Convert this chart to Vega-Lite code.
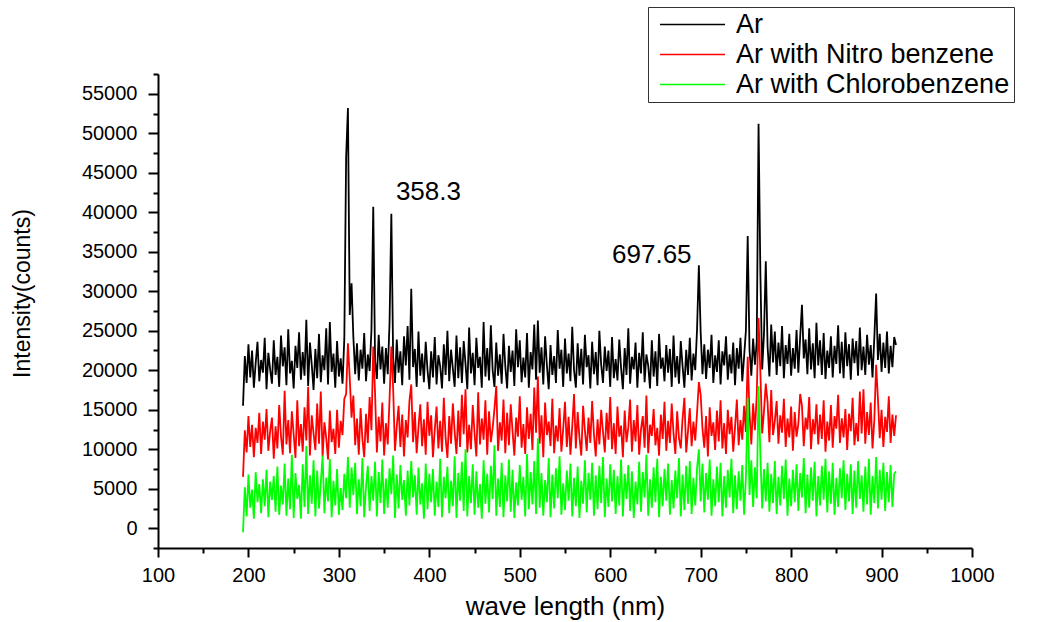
{
"$schema": "https://vega.github.io/schema/vega-lite/v6.json",
"width": 814,
"height": 474,
"autosize": {"type": "none"},
"padding": {"left": 158, "top": 74, "right": 75, "bottom": 74},
"background": "white",
"config": {
  "view": {"stroke": null},
  "font": "Liberation Sans",
  "axis": {"domainColor": "black", "domainWidth": 2, "tickColor": "black", "tickWidth": 2, "grid": false, "labelFont": "Liberation Sans", "labelFontSize": 20, "labelColor": "black", "titleFont": "Liberation Sans", "titleFontWeight": "normal", "titleColor": "black", "labelFlush": false, "labelOverlap": false}
},
"resolve": {"axis": {"x": "independent", "y": "independent"}},
"datasets": {
"spec": [
{"w":194,"a":15500,"n":6500,"c":-500},
{"w":196,"a":21800,"n":12400,"c":5200},
{"w":198,"a":18400,"n":9600,"c":1500},
{"w":200,"a":23300,"n":14200,"c":6800},
{"w":202,"a":19100,"n":10300,"c":2600},
{"w":204,"a":22500,"n":13100,"c":4900},
{"w":206,"a":17800,"n":9000,"c":1200},
{"w":208,"a":20900,"n":12700,"c":7100},
{"w":210,"a":23600,"n":10800,"c":3300},
{"w":212,"a":18600,"n":14600,"c":5600},
{"w":214,"a":21300,"n":9400,"c":1900},
{"w":216,"a":19700,"n":13500,"c":6200},
{"w":218,"a":24100,"n":11200,"c":2800},
{"w":220,"a":17600,"n":15100,"c":7400},
{"w":222,"a":22200,"n":9800,"c":1400},
{"w":224,"a":20100,"n":12300,"c":5900},
{"w":226,"a":18300,"n":14000,"c":3600},
{"w":228,"a":23800,"n":8800,"c":6600},
{"w":230,"a":19400,"n":12900,"c":2100},
{"w":232,"a":21700,"n":10100,"c":7800},
{"w":234,"a":17900,"n":15600,"c":1700},
{"w":236,"a":24400,"n":11600,"c":5400},
{"w":238,"a":20500,"n":9300,"c":3000},
{"w":240,"a":22900,"n":17400,"c":8200},
{"w":242,"a":18100,"n":10600,"c":1600},
{"w":244,"a":25200,"n":13700,"c":6300},
{"w":246,"a":19600,"n":9500,"c":2400},
{"w":248,"a":21200,"n":14800,"c":9300},
{"w":250,"a":17700,"n":11900,"c":1300},
{"w":252,"a":23100,"n":8900,"c":7000},
{"w":254,"a":20300,"n":16200,"c":3700},
{"w":256,"a":24800,"n":10400,"c":5500},
{"w":258,"a":18800,"n":13200,"c":1200},
{"w":260,"a":22300,"n":9700,"c":8100},
{"w":262,"a":19300,"n":15300,"c":2700},
{"w":264,"a":26400,"n":11100,"c":10400},
{"w":266,"a":18000,"n":17900,"c":1800},
{"w":268,"a":23500,"n":9200,"c":6700},
{"w":270,"a":20700,"n":14300,"c":3100},
{"w":272,"a":17500,"n":12000,"c":8600},
{"w":274,"a":22700,"n":9900,"c":1500},
{"w":276,"a":19000,"n":15800,"c":7300},
{"w":278,"a":24600,"n":10700,"c":2500},
{"w":280,"a":18500,"n":17300,"c":5800},
{"w":282,"a":21900,"n":9100,"c":9200},
{"w":284,"a":20000,"n":13400,"c":1900},
{"w":286,"a":25300,"n":11400,"c":6400},
{"w":288,"a":18200,"n":8700,"c":3400},
{"w":290,"a":26100,"n":14900,"c":8800},
{"w":292,"a":19800,"n":10900,"c":1400},
{"w":294,"a":22100,"n":12600,"c":6000},
{"w":296,"a":17800,"n":9400,"c":2900},
{"w":298,"a":23700,"n":15000,"c":7500},
{"w":300,"a":19200,"n":10200,"c":1700},
{"w":302,"a":21500,"n":13600,"c":5100},
{"w":304,"a":18300,"n":11800,"c":2300},
{"w":306,"a":24000,"n":16400,"c":6900},
{"w":308,"a":47000,"n":17000,"c":3800},
{"w":310,"a":53200,"n":23400,"c":9000},
{"w":312,"a":27000,"n":19000,"c":2600},
{"w":314,"a":31000,"n":14000,"c":7700},
{"w":316,"a":24200,"n":16800,"c":4200},
{"w":318,"a":19500,"n":10500,"c":8300},
{"w":320,"a":23400,"n":13900,"c":1800},
{"w":322,"a":18700,"n":9300,"c":6200},
{"w":324,"a":22600,"n":15200,"c":2800},
{"w":326,"a":20200,"n":11300,"c":8900},
{"w":328,"a":24700,"n":9000,"c":1400},
{"w":330,"a":18600,"n":14500,"c":5300},
{"w":332,"a":22000,"n":10800,"c":7900},
{"w":334,"a":19900,"n":16600,"c":2200},
{"w":336,"a":25100,"n":12400,"c":6600},
{"w":338,"a":40700,"n":23000,"c":3500},
{"w":340,"a":21200,"n":17100,"c":8400},
{"w":342,"a":18900,"n":9600,"c":1500},
{"w":344,"a":24500,"n":14100,"c":7100},
{"w":346,"a":20100,"n":11000,"c":3200},
{"w":348,"a":23000,"n":15900,"c":8700},
{"w":350,"a":18300,"n":9200,"c":1800},
{"w":352,"a":22800,"n":13300,"c":6300},
{"w":354,"a":19500,"n":10600,"c":2600},
{"w":356,"a":26000,"n":16300,"c":7600},
{"w":358,"a":39800,"n":23000,"c":4300},
{"w":360,"a":21600,"n":17700,"c":9200},
{"w":362,"a":18400,"n":9800,"c":1300},
{"w":364,"a":23900,"n":12900,"c":6800},
{"w":366,"a":19700,"n":15500,"c":2500},
{"w":368,"a":22400,"n":10300,"c":8000},
{"w":370,"a":18100,"n":14400,"c":3600},
{"w":372,"a":24300,"n":9100,"c":6100},
{"w":374,"a":20600,"n":13700,"c":1600},
{"w":376,"a":25600,"n":11500,"c":7300},
{"w":378,"a":18800,"n":16100,"c":2900},
{"w":380,"a":30300,"n":18200,"c":8500},
{"w":382,"a":20400,"n":10900,"c":3900},
{"w":384,"a":22700,"n":14700,"c":6700},
{"w":386,"a":17900,"n":9500,"c":1700},
{"w":388,"a":24900,"n":12800,"c":7700},
{"w":390,"a":19300,"n":15700,"c":3000},
{"w":392,"a":22100,"n":10400,"c":5700},
{"w":394,"a":18500,"n":13800,"c":1200},
{"w":396,"a":23600,"n":9300,"c":8200},
{"w":398,"a":20000,"n":16000,"c":2400},
{"w":400,"a":17600,"n":11700,"c":6900},
{"w":402,"a":22400,"n":14300,"c":3300},
{"w":404,"a":19100,"n":9000,"c":7500},
{"w":406,"a":24200,"n":12500,"c":1600},
{"w":408,"a":18200,"n":15400,"c":5900},
{"w":410,"a":21900,"n":10100,"c":2700},
{"w":412,"a":20500,"n":13600,"c":8800},
{"w":414,"a":17700,"n":9700,"c":1400},
{"w":416,"a":23300,"n":16500,"c":6500},
{"w":418,"a":19400,"n":11400,"c":3800},
{"w":420,"a":25000,"n":8900,"c":7800},
{"w":422,"a":18600,"n":14200,"c":1900},
{"w":424,"a":22600,"n":10700,"c":6000},
{"w":426,"a":20200,"n":15800,"c":2800},
{"w":428,"a":17900,"n":12200,"c":9100},
{"w":430,"a":24400,"n":9400,"c":1300},
{"w":432,"a":19000,"n":14900,"c":7000},
{"w":434,"a":22900,"n":10300,"c":3500},
{"w":436,"a":18400,"n":16900,"c":8400},
{"w":438,"a":23700,"n":11900,"c":2200},
{"w":440,"a":20800,"n":17600,"c":10000},
{"w":442,"a":17600,"n":9600,"c":1500},
{"w":444,"a":25400,"n":13100,"c":6600},
{"w":446,"a":19600,"n":10000,"c":3200},
{"w":448,"a":22200,"n":15600,"c":8100},
{"w":450,"a":18100,"n":12000,"c":1700},
{"w":452,"a":24100,"n":9100,"c":7200},
{"w":454,"a":20300,"n":17200,"c":2600},
{"w":456,"a":21700,"n":10600,"c":5600},
{"w":458,"a":17800,"n":13900,"c":1200},
{"w":460,"a":26100,"n":11200,"c":8600},
{"w":462,"a":19200,"n":16200,"c":3100},
{"w":464,"a":22800,"n":9300,"c":6900},
{"w":466,"a":18700,"n":14800,"c":2000},
{"w":468,"a":25700,"n":10900,"c":7900},
{"w":470,"a":20000,"n":12700,"c":3700},
{"w":472,"a":17900,"n":15100,"c":10500},
{"w":474,"a":23500,"n":18000,"c":1600},
{"w":476,"a":19300,"n":9800,"c":6300},
{"w":478,"a":22000,"n":13400,"c":2700},
{"w":480,"a":18300,"n":11100,"c":8300},
{"w":482,"a":24600,"n":16300,"c":1400},
{"w":484,"a":20500,"n":9500,"c":6700},
{"w":486,"a":17700,"n":14600,"c":3400},
{"w":488,"a":23100,"n":10500,"c":8700},
{"w":490,"a":19800,"n":15700,"c":2100},
{"w":492,"a":22500,"n":12300,"c":7400},
{"w":494,"a":18000,"n":9200,"c":1300},
{"w":496,"a":25200,"n":14000,"c":5800},
{"w":498,"a":20400,"n":11600,"c":2900},
{"w":500,"a":23800,"n":16700,"c":8000},
{"w":502,"a":18500,"n":10200,"c":3600},
{"w":504,"a":21600,"n":13200,"c":6500},
{"w":506,"a":19100,"n":9400,"c":1500},
{"w":508,"a":24700,"n":15300,"c":9400},
{"w":510,"a":17800,"n":11300,"c":2400},
{"w":512,"a":22300,"n":14500,"c":7100},
{"w":514,"a":20100,"n":9900,"c":3000},
{"w":516,"a":25800,"n":17800,"c":8500},
{"w":518,"a":18800,"n":12100,"c":1800},
{"w":520,"a":26300,"n":19200,"c":11400},
{"w":522,"a":19700,"n":10700,"c":2600},
{"w":524,"a":22900,"n":14300,"c":7000},
{"w":526,"a":18200,"n":9000,"c":1600},
{"w":528,"a":24300,"n":15900,"c":6100},
{"w":530,"a":20600,"n":11800,"c":3300},
{"w":532,"a":17600,"n":13500,"c":8900},
{"w":534,"a":23200,"n":10400,"c":1400},
{"w":536,"a":19400,"n":16400,"c":6800},
{"w":538,"a":21800,"n":9500,"c":2500},
{"w":540,"a":18400,"n":13000,"c":7600},
{"w":542,"a":25100,"n":11000,"c":3800},
{"w":544,"a":20200,"n":15200,"c":9100},
{"w":546,"a":22600,"n":9700,"c":1700},
{"w":548,"a":17900,"n":12600,"c":5700},
{"w":550,"a":24000,"n":16000,"c":2300},
{"w":552,"a":19600,"n":10300,"c":7300},
{"w":554,"a":22100,"n":14100,"c":3500},
{"w":556,"a":18600,"n":9300,"c":8200},
{"w":558,"a":25500,"n":12900,"c":1500},
{"w":560,"a":20000,"n":17000,"c":6400},
{"w":562,"a":17800,"n":10100,"c":2800},
{"w":564,"a":23400,"n":14700,"c":7800},
{"w":566,"a":19300,"n":11500,"c":1300},
{"w":568,"a":22700,"n":9200,"c":6000},
{"w":570,"a":18200,"n":15500,"c":3100},
{"w":572,"a":24500,"n":12400,"c":8600},
{"w":574,"a":20400,"n":9800,"c":2000},
{"w":576,"a":21900,"n":14000,"c":7000},
{"w":578,"a":17700,"n":10800,"c":3600},
{"w":580,"a":23600,"n":16100,"c":8300},
{"w":582,"a":19500,"n":11900,"c":1600},
{"w":584,"a":22300,"n":9100,"c":6700},
{"w":586,"a":18100,"n":13800,"c":2400},
{"w":588,"a":25000,"n":10600,"c":7900},
{"w":590,"a":20700,"n":15000,"c":3200},
{"w":592,"a":18400,"n":12200,"c":9000},
{"w":594,"a":23000,"n":9600,"c":1400},
{"w":596,"a":19900,"n":14600,"c":6300},
{"w":598,"a":22500,"n":11200,"c":2700},
{"w":600,"a":17900,"n":16600,"c":8100},
{"w":602,"a":24200,"n":10000,"c":3400},
{"w":604,"a":19000,"n":13300,"c":7400},
{"w":606,"a":21400,"n":9400,"c":1800},
{"w":608,"a":18700,"n":15400,"c":6600},
{"w":610,"a":23900,"n":11600,"c":2900},
{"w":612,"a":20300,"n":13000,"c":8700},
{"w":614,"a":17600,"n":9000,"c":1500},
{"w":616,"a":22800,"n":14900,"c":6900},
{"w":618,"a":19400,"n":10900,"c":3700},
{"w":620,"a":25300,"n":12800,"c":8000},
{"w":622,"a":18300,"n":16300,"c":2200},
{"w":624,"a":21700,"n":9700,"c":7200},
{"w":626,"a":20100,"n":13700,"c":1300},
{"w":628,"a":23500,"n":11000,"c":5900},
{"w":630,"a":17800,"n":15600,"c":3000},
{"w":632,"a":22200,"n":9300,"c":8400},
{"w":634,"a":19600,"n":12500,"c":2100},
{"w":636,"a":24800,"n":14200,"c":7100},
{"w":638,"a":18500,"n":10200,"c":3900},
{"w":640,"a":22000,"n":16800,"c":9300},
{"w":642,"a":20600,"n":9500,"c":1600},
{"w":644,"a":17700,"n":13100,"c":6200},
{"w":646,"a":23800,"n":11700,"c":2600},
{"w":648,"a":19200,"n":15100,"c":7700},
{"w":650,"a":22400,"n":10500,"c":3300},
{"w":652,"a":18000,"n":12700,"c":8800},
{"w":654,"a":24600,"n":9200,"c":1400},
{"w":656,"a":20200,"n":14400,"c":6500},
{"w":658,"a":21600,"n":11300,"c":2800},
{"w":660,"a":18600,"n":16000,"c":7500},
{"w":662,"a":23200,"n":9800,"c":3500},
{"w":664,"a":19700,"n":13600,"c":8200},
{"w":666,"a":22700,"n":10800,"c":1700},
{"w":668,"a":17900,"n":15800,"c":6100},
{"w":670,"a":24400,"n":12000,"c":2500},
{"w":672,"a":19100,"n":9400,"c":7300},
{"w":674,"a":21800,"n":14800,"c":3800},
{"w":676,"a":18300,"n":11400,"c":8900},
{"w":678,"a":23700,"n":10100,"c":1500},
{"w":680,"a":20500,"n":13900,"c":6800},
{"w":682,"a":17800,"n":16500,"c":2300},
{"w":684,"a":22600,"n":9600,"c":7900},
{"w":686,"a":19400,"n":12300,"c":3100},
{"w":688,"a":24100,"n":15200,"c":8500},
{"w":690,"a":18700,"n":10400,"c":1800},
{"w":692,"a":22100,"n":13500,"c":6400},
{"w":694,"a":20000,"n":11100,"c":2900},
{"w":696,"a":25200,"n":14600,"c":7600},
{"w":698,"a":33300,"n":18500,"c":10000},
{"w":700,"a":24800,"n":16900,"c":3400},
{"w":702,"a":19500,"n":12600,"c":8200},
{"w":704,"a":23300,"n":10200,"c":2000},
{"w":706,"a":18900,"n":14200,"c":7000},
{"w":708,"a":22600,"n":9100,"c":3600},
{"w":710,"a":20300,"n":15300,"c":8700},
{"w":712,"a":24500,"n":11700,"c":1600},
{"w":714,"a":18400,"n":13400,"c":6200},
{"w":716,"a":21900,"n":9900,"c":2800},
{"w":718,"a":19800,"n":14900,"c":7800},
{"w":720,"a":23800,"n":11000,"c":3300},
{"w":722,"a":18200,"n":16200,"c":8300},
{"w":724,"a":22400,"n":10100,"c":1500},
{"w":726,"a":20600,"n":13300,"c":6600},
{"w":728,"a":24300,"n":9400,"c":2600},
{"w":730,"a":18800,"n":15000,"c":7400},
{"w":732,"a":22000,"n":11900,"c":3900},
{"w":734,"a":19600,"n":14100,"c":8800},
{"w":736,"a":23500,"n":9700,"c":1900},
{"w":738,"a":18100,"n":12800,"c":6700},
{"w":740,"a":22800,"n":16300,"c":2400},
{"w":742,"a":20200,"n":10500,"c":7200},
{"w":744,"a":24100,"n":13700,"c":3500},
{"w":746,"a":18600,"n":11200,"c":8000},
{"w":748,"a":21700,"n":15500,"c":1700},
{"w":750,"a":25000,"n":12200,"c":6400},
{"w":752,"a":37000,"n":21700,"c":16500},
{"w":754,"a":22600,"n":14600,"c":4200},
{"w":756,"a":19300,"n":10600,"c":8600},
{"w":758,"a":24000,"n":15800,"c":2700},
{"w":760,"a":20700,"n":12400,"c":7700},
{"w":762,"a":23600,"n":16800,"c":3800},
{"w":764,"a":51200,"n":26600,"c":18000},
{"w":766,"a":32400,"n":19800,"c":9400},
{"w":768,"a":20100,"n":12000,"c":2500},
{"w":770,"a":24600,"n":14800,"c":7500},
{"w":772,"a":33800,"n":18300,"c":3400},
{"w":774,"a":23000,"n":15900,"c":8300},
{"w":776,"a":19200,"n":10900,"c":2100},
{"w":778,"a":25800,"n":17500,"c":6900},
{"w":780,"a":21000,"n":11800,"c":3200},
{"w":782,"a":24900,"n":13600,"c":8500},
{"w":784,"a":19400,"n":16100,"c":1800},
{"w":786,"a":23500,"n":10700,"c":6500},
{"w":788,"a":20500,"n":14300,"c":2900},
{"w":790,"a":25600,"n":12100,"c":7900},
{"w":792,"a":19000,"n":16400,"c":3700},
{"w":794,"a":23200,"n":10300,"c":8700},
{"w":796,"a":20800,"n":13900,"c":1600},
{"w":798,"a":24600,"n":11500,"c":6300},
{"w":800,"a":19300,"n":15400,"c":2800},
{"w":802,"a":22800,"n":9800,"c":7400},
{"w":804,"a":20200,"n":14700,"c":3300},
{"w":806,"a":25100,"n":11600,"c":8100},
{"w":808,"a":19700,"n":13200,"c":2200},
{"w":810,"a":24200,"n":17000,"c":7000},
{"w":812,"a":28300,"n":15500,"c":3900},
{"w":814,"a":21500,"n":10400,"c":8900},
{"w":816,"a":23900,"n":14000,"c":1900},
{"w":818,"a":19500,"n":12500,"c":6800},
{"w":820,"a":25300,"n":16600,"c":2600},
{"w":822,"a":20100,"n":10000,"c":7700},
{"w":824,"a":23400,"n":13800,"c":3500},
{"w":826,"a":19000,"n":11900,"c":8400},
{"w":828,"a":26000,"n":15700,"c":1500},
{"w":830,"a":20600,"n":10600,"c":6600},
{"w":832,"a":23800,"n":14400,"c":2900},
{"w":834,"a":19400,"n":11300,"c":7900},
{"w":836,"a":24700,"n":16200,"c":3600},
{"w":838,"a":18900,"n":9700,"c":8800},
{"w":840,"a":22500,"n":13500,"c":2000},
{"w":842,"a":20300,"n":11100,"c":7200},
{"w":844,"a":24300,"n":15600,"c":3100},
{"w":846,"a":19100,"n":10200,"c":8300},
{"w":848,"a":23100,"n":14200,"c":1700},
{"w":850,"a":20800,"n":12600,"c":6400},
{"w":852,"a":25700,"n":16900,"c":2700},
{"w":854,"a":19600,"n":10800,"c":7600},
{"w":856,"a":23600,"n":13900,"c":3800},
{"w":858,"a":19000,"n":11500,"c":8600},
{"w":860,"a":24800,"n":15100,"c":2300},
{"w":862,"a":20500,"n":9900,"c":6900},
{"w":864,"a":23300,"n":14500,"c":3400},
{"w":866,"a":18800,"n":12300,"c":8100},
{"w":868,"a":24000,"n":16500,"c":1800},
{"w":870,"a":20900,"n":10500,"c":7300},
{"w":872,"a":23700,"n":13300,"c":2600},
{"w":874,"a":19300,"n":11000,"c":8500},
{"w":876,"a":25400,"n":17300,"c":3700},
{"w":878,"a":20000,"n":12000,"c":6700},
{"w":880,"a":23000,"n":17600,"c":2100},
{"w":882,"a":19400,"n":10700,"c":7800},
{"w":884,"a":24500,"n":14700,"c":3000},
{"w":886,"a":20700,"n":11800,"c":8800},
{"w":888,"a":23200,"n":15900,"c":1700},
{"w":890,"a":19100,"n":10100,"c":6600},
{"w":892,"a":24100,"n":13700,"c":3200},
{"w":894,"a":29700,"n":20700,"c":9000},
{"w":896,"a":21300,"n":16400,"c":2500},
{"w":898,"a":24600,"n":11400,"c":7400},
{"w":900,"a":19800,"n":15000,"c":3600},
{"w":902,"a":23500,"n":10300,"c":8300},
{"w":904,"a":20300,"n":14100,"c":2200},
{"w":906,"a":24900,"n":12200,"c":7100},
{"w":908,"a":19600,"n":16700,"c":3300},
{"w":910,"a":23100,"n":10800,"c":8000},
{"w":912,"a":20400,"n":14400,"c":2700},
{"w":914,"a":24200,"n":11700,"c":6900},
{"w":916,"a":23200,"n":14300,"c":7200}
],
"ann": [
{"w":399,"v":42600,"t":"358.3"},
{"w":646,"v":34600,"t":"697.65"}
]
},
"layer": [
{
  "data": {"name": "spec"},
  "transform": [{"fold": ["a", "n", "c"], "as": ["key", "v"]}],
  "mark": {"type": "line", "strokeWidth": 1.8, "interpolate": "linear"},
  "encoding": {
    "x": {"field": "w", "type": "quantitative", "scale": {"domain": [100, 1000], "nice": false, "zero": false},
      "axis": {"orient": "bottom", "title": "wave length (nm)", "titleFontSize": 26, "titleX": 407, "titleY": 58, "titleBaseline": "middle",
        "values": [100,200,300,400,500,600,700,800,900,1000], "format": "d", "tickSize": 9, "labelPadding": 8}},
    "y": {"field": "v", "type": "quantitative", "scale": {"domain": [-2500, 57500], "nice": false, "zero": false},
      "axis": {"orient": "left", "title": "Intensity(counts)", "titleFontSize": 23, "titleX": -136, "titleY": 219, "titleBaseline": "middle", "titleAlign": "center", "titleAngle": -90,
        "values": [0,5000,10000,15000,20000,25000,30000,35000,40000,45000,50000,55000], "format": "d", "tickSize": 10, "labelPadding": 11}},
    "color": {"field": "key", "type": "nominal",
      "scale": {"domain": ["a", "n", "c"], "range": ["#000000", "#ff0000", "#00ff00"]},
      "legend": {"orient": "none", "legendX": 490, "legendY": -67, "title": null,
        "labelExpr": "datum.label == 'a' ? 'Ar' : datum.label == 'n' ? 'Ar with Nitro benzene' : 'Ar with Chlorobenzene'",
        "strokeColor": "#333333", "fillColor": "white", "padding": 4, "symbolType": "M-3.25,0H3.25", "symbolSize": 400, "symbolStrokeWidth": 1.5,
        "symbolOffset": 27, "labelOffset": 30, "labelFontSize": 27, "labelFont": "Liberation Sans", "labelColor": "black", "rowPadding": 2, "labelLimit": 400}}
  }
},
{
  "data": {"name": "ann"},
  "mark": {"type": "text", "fontSize": 26, "font": "Liberation Sans", "color": "black", "align": "center", "baseline": "middle"},
  "encoding": {
    "x": {"field": "w", "type": "quantitative",
      "axis": {"orient": "bottom", "title": null, "labels": false, "domain": false, "tickSize": 5,
        "values": [150,250,350,450,550,650,750,850,950]}},
    "y": {"field": "v", "type": "quantitative",
      "axis": {"orient": "left", "title": null, "labels": false, "domain": false, "tickSize": 5,
        "values": [-2500,2500,7500,12500,17500,22500,27500,32500,37500,42500,47500,52500,57500]}},
    "text": {"field": "t"}
  }
}
]
}
